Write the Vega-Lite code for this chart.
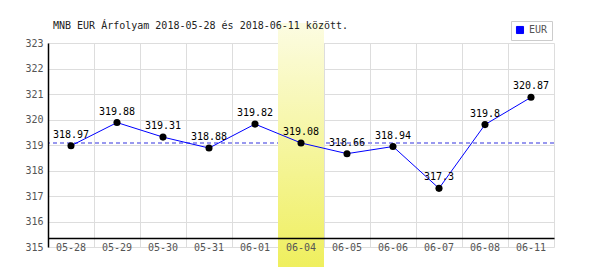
{
  "$schema": "https://vega.github.io/schema/vega-lite/v6.json",
  "autosize": "none",
  "width": 506,
  "height": 204,
  "padding": {"left": 48, "top": 43, "right": 46, "bottom": 23},
  "background": "white",
  "title": {
    "text": "MNB EUR Árfolyam 2018-05-28 és 2018-06-11 között.",
    "anchor": "start",
    "frame": "group",
    "dx": 5,
    "offset": -18,
    "baseline": "alphabetic",
    "font": "DejaVu Sans Mono",
    "fontSize": 10,
    "fontWeight": "normal",
    "color": "#222"
  },
  "config": {
    "view": {"stroke": null},
    "axis": {"labelFont": "DejaVu Sans Mono", "labelFontSize": 10, "labelColor": "#555", "title": null, "labelOverlap": false}
  },
  "resolve": {"scale": {"x": "shared", "y": "shared"}, "axis": {"x": "independent", "y": "independent"}},
  "data": {
    "values": [
      {"d": "05-28", "v": 318.97},
      {"d": "05-29", "v": 319.88},
      {"d": "05-30", "v": 319.31},
      {"d": "05-31", "v": 318.88},
      {"d": "06-01", "v": 319.82},
      {"d": "06-04", "v": 319.08},
      {"d": "06-05", "v": 318.66},
      {"d": "06-06", "v": 318.94},
      {"d": "06-07", "v": 317.3},
      {"d": "06-08", "v": 319.8},
      {"d": "06-11", "v": 320.87}
    ]
  },
  "encoding": {
    "x": {
      "field": "d", "type": "nominal", "sort": null,
      "scale": {"type": "band", "paddingInner": 0, "paddingOuter": 0,
        "domain": ["05-28", "05-29", "05-30", "05-31", "06-01", "06-04", "06-05", "06-06", "06-07", "06-08", "06-11"]},
      "axis": null
    },
    "y": {
      "field": "v", "type": "quantitative",
      "scale": {"domain": [315, 323], "nice": false, "zero": false},
      "axis": null
    }
  },
  "layer": [
    {
      "mark": {"type": "rule", "color": "#9999ee", "strokeDash": [4, 3], "strokeWidth": 1},
      "encoding": {
        "x": null,
        "y": {"datum": 319.08, "type": "quantitative", "axis": null}
      }
    },
    {
      "transform": [{"filter": "datum.d == '06-04'"}],
      "mark": {"type": "rect", "color": {"gradient": "linear", "x1": 0, "y1": 0, "x2": 0, "y2": 1, "stops": [{"offset": 0, "color": "#fcfce2"}, {"offset": 1, "color": "#efef5e"}]}},
      "encoding": {
        "x": {"field": "d", "type": "nominal", "sort": null,
          "axis": {"orient": "bottom", "tickBand": "extent", "grid": true, "gridColor": "#dddddd", "ticks": false, "domain": false, "labels": false, "zindex": 0}},
        "y": {"datum": 323.78, "type": "quantitative",
          "axis": {"orient": "left", "values": [315, 316, 317, 318, 319, 320, 321, 322, 323], "grid": true, "gridColor": "#dddddd", "ticks": false, "domain": false, "labels": false, "zindex": 0}},
        "y2": {"datum": 314.22}
      }
    },
    {
      "mark": {"type": "line", "strokeWidth": 1},
      "encoding": {
        "color": {"datum": "EUR", "scale": {"range": ["#0000ff"]},
          "legend": {"orient": "none", "legendX": 463, "legendY": -22, "title": null, "padding": 4, "strokeColor": "#cccccc", "fillColor": "white", "symbolType": "square", "symbolSize": 50, "labelFont": "DejaVu Sans Mono", "labelFontSize": 10, "labelColor": "#555",
            "encode": {"symbols": {"update": {"fill": {"value": "#0000ff"}, "stroke": {"value": "#000060"}, "strokeWidth": {"value": 1}}}}}}
      }
    },
    {
      "mark": {"type": "point", "filled": true, "color": "black", "size": 50, "opacity": 1},
      "encoding": {
        "x": {"field": "d", "type": "nominal", "sort": null,
          "axis": {"orient": "bottom", "labelAngle": 0, "grid": false, "ticks": false, "domainColor": "#000", "domainWidth": 1.5, "offset": -9, "labelPadding": 4, "zindex": 1}},
        "y": {"field": "v", "type": "quantitative",
          "axis": {"orient": "left", "values": [315, 316, 317, 318, 319, 320, 321, 322, 323], "labelOverlap": false, "grid": false, "ticks": false, "domainColor": "#000", "domainWidth": 1.5, "labelPadding": 5, "zindex": 1}}
      }
    },
    {
      "mark": {"type": "text", "font": "DejaVu Sans Mono", "fontSize": 10, "color": "black", "dy": -11},
      "encoding": {
        "text": {"field": "v", "type": "nominal"}
      }
    }
  ]
}
